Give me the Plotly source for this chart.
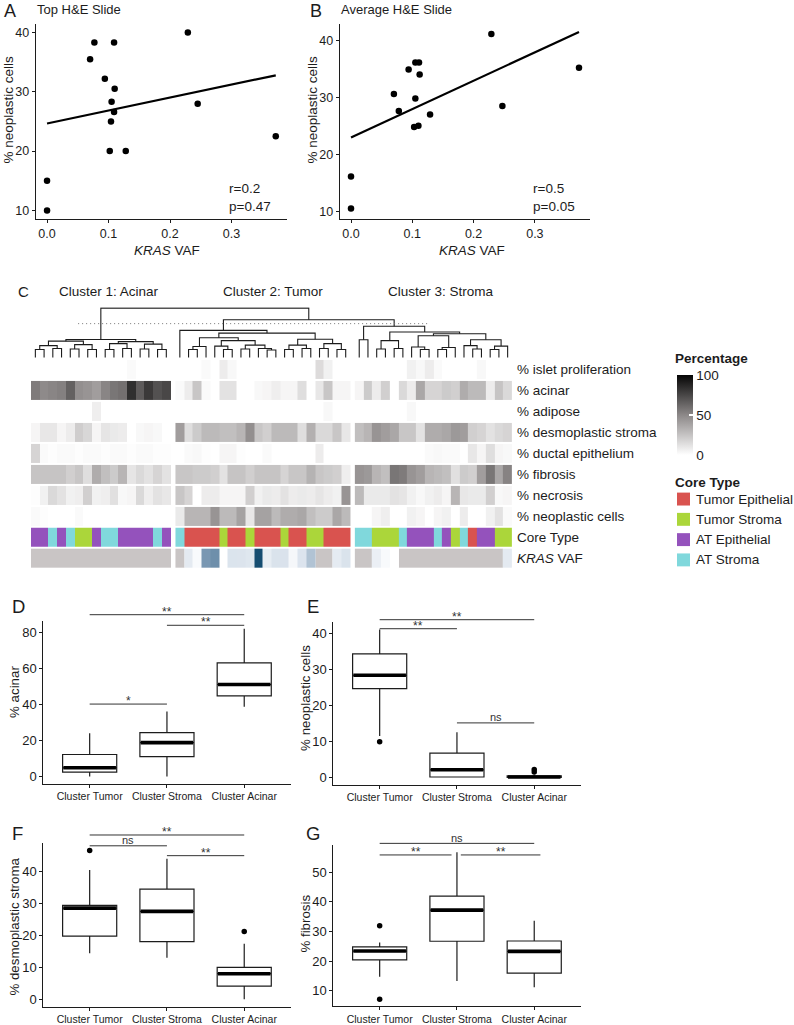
import numpy as np
import plotly.graph_objects as go

W, H = 794, 1025
FONT = "Liberation Sans, Arial, Helvetica, sans-serif"
INK = "#1c1c1c"

# ---------------- A / B : KRAS VAF vs % neoplastic cells ----------------
vaf_top = [0.229, 0.077, 0.109, 0.070, 0.094, 0.110, 0.105, 0.109, 0.104, 0.245, 0.102, 0.128, 0.0, 0.0, 0.372]
neo_top = [40.0, 38.3, 38.3, 35.5, 32.2, 30.5, 28.3, 26.6, 25.0, 28.0, 20.0, 20.0, 15.0, 10.0, 22.5]
vaf_avg = [0.229, 0.094, 0.105, 0.111, 0.112, 0.070, 0.105, 0.078, 0.129, 0.103, 0.110, 0.247, 0.0, 0.0, 0.372]
neo_avg = [41.1, 34.9, 36.1, 36.1, 34.0, 30.6, 29.8, 27.6, 27.0, 24.8, 25.0, 28.5, 16.1, 10.5, 35.2]
stats_top = ["r=0.2", "p=0.47"]
stats_avg = ["r=0.5", "p=0.05"]
titles_ab = ["Top H&E Slide", "Average H&E Slide"]
vaf_ticks = [0.0, 0.1, 0.2, 0.3]
neo_ticks = [10, 20, 30, 40]

# ---------------- C : clustered heatmap ----------------
cluster_names = ["Cluster 1: Acinar", "Cluster 2: Tumor", "Cluster 3: Stroma"]
cluster_sizes = [16, 20, 18]
row_labels = ["% islet proliferation", "% acinar", "% adipose", "% desmoplastic stroma",
              "% ductal epithelium", "% fibrosis", "% necrosis", "% neoplastic cells",
              "Core Type", "<i>KRAS</i> VAF"]
islet = ([0, 0, 0, 0, 0, 0, 0, 0, 0, 0, 0, 2, 0, 0, 0, 0] +
         [0, 0, 0, 2, 0, 8, 3, 0, 0, 0, 0, 0, 0, 0, 0, 0, 15, 6, 0, 0] +
         [0, 0, 0, 0, 0, 0, 6, 3, 8, 2, 0, 0, 0, 0, 3, 0, 0, 0])
acinar = ([55, 49, 51, 53, 65, 47, 45, 41, 51, 57, 59, 84, 67, 80, 71, 75] +
          [2, 8, 24, 2, 0, 12, 12, 0, 0, 3, 4, 7, 4, 4, 14, 0, 10, 24, 4, 4] +
          [4, 22, 8, 20, 0, 16, 8, 37, 18, 18, 22, 20, 35, 29, 29, 8, 25, 16])
adipose = ([0, 0, 0, 0, 0, 0, 0, 7, 0, 0, 0, 0, 0, 0, 0, 0] +
           [0, 0, 0, 0, 0, 0, 0, 0, 0, 0, 0, 0, 0, 0, 0, 0, 0, 3, 0, 0] +
           [0, 0, 0, 0, 0, 0, 3, 0, 0, 0, 0, 0, 0, 0, 0, 0, 0, 0])
desmoplastic = ([4, 10, 10, 4, 8, 21, 17, 4, 11, 9, 8, 0, 3, 4, 3, 0] +
                [41, 14, 22, 29, 29, 27, 27, 31, 47, 24, 20, 29, 29, 29, 14, 33, 16, 16, 24, 10] +
                [27, 31, 45, 41, 37, 24, 24, 12, 35, 35, 37, 43, 41, 20, 18, 12, 16, 18])
ductal = ([18, 2, 1, 2, 2, 1, 2, 2, 1, 2, 2, 1, 2, 2, 1, 1] +
          [0, 2, 3, 1, 0, 4, 4, 1, 0, 0, 2, 0, 0, 0, 0, 0, 8, 0, 0, 0] +
          [0, 0, 0, 0, 0, 0, 0, 0, 2, 3, 2, 2, 0, 10, 4, 14, 4, 3])
fibrosis = ([25, 25, 25, 25, 20, 24, 14, 35, 27, 22, 31, 11, 16, 12, 18, 12] +
            [24, 24, 22, 22, 20, 12, 25, 25, 20, 25, 25, 25, 18, 24, 24, 32, 24, 22, 20, 7] +
            [45, 43, 31, 27, 57, 55, 45, 41, 31, 29, 27, 13, 22, 20, 41, 57, 37, 52])
necrosis = ([1, 6, 16, 12, 6, 7, 20, 6, 7, 13, 3, 4, 16, 7, 12, 10] +
            [24, 18, 0, 8, 8, 4, 4, 4, 20, 6, 9, 8, 12, 8, 9, 8, 11, 8, 6, 45] +
            [29, 9, 9, 9, 12, 11, 6, 3, 6, 8, 4, 31, 10, 9, 9, 20, 3, 4])
neoplastic = ([2, 1, 0, 0, 0, 2, 0, 0, 0, 0, 0, 0, 0, 0, 0, 0] +
              [9, 31, 31, 31, 45, 29, 29, 39, 10, 39, 39, 29, 35, 35, 37, 27, 22, 22, 37, 29] +
              [0, 0, 4, 7, 0, 0, 6, 4, 0, 4, 6, 0, 8, 0, 0, 6, 12, 2])
core_type = (["ATE", "ATE", "ATS", "ATE", "ATS", "TS", "TS", "ATE", "ATS", "ATS", "ATE", "ATE", "ATE", "ATE", "ATS", "ATE"] +
             ["ATS", "TE", "TE", "TE", "TE", "TS", "TE", "TE", "TS", "TE", "TE", "TE", "TS", "TE", "TE", "TS", "TS", "TE", "TE", "TE"] +
             ["ATS", "ATS", "TS", "TS", "TS", "ATS", "ATE", "ATE", "ATE", "ATS", "ATE", "TS", "ATS", "TE", "ATE", "ATE", "TS", "TS"])
kras_vaf = ([None] * 16 +
            [None, 0.08, 0.02, 0.229, 0.245, 0.0, 0.105, 0.104, 0.094, 0.372, 0.07, 0.109, 0.11, 0.03, 0.102, 0.16, None, None, 0.077, 0.109] +
            [None, None, 0.06, 0.02, 0.0] + [None] * 12 + [0.08])
core_codes = ["TE", "TS", "ATE", "ATS"]
core_names = ["Tumor Epithelial", "Tumor Stroma", "AT Epithelial", "AT Stroma"]
core_colors = ["#D9534F", "#ABD63A", "#9452BC", "#80D8DC"]
pct_ticks = [0, 50, 100]
# dendrogram: [left, right, merge height]; leaves are column indices
dendro_c1 = [[[[0, 1, 8], [2, 3, 9], 12], [[4, 5, 8.5], [6, 7, 8], 13], 16.5],
             [[[8, 9, 8], [10, 11, 9], 14], [[12, 13, 8.5], [14, 15, 8], 13.5], 16], 18.2]
dendro_c2 = [16, [[[[17, 18, 8], 19, 11], [[20, [21, 22, 8], 11.5], [[23, 24, 8.5], [25, [26, 27, 7.5], 9], 12.5], 17], 20],
                  [[[28, 29, 8], [30, 31, 9], 12.5], [[32, 33, 9], [34, 35, 8], 14], 18.5], 24.7], 27.5]
dendro_c3 = [[36, 37, 18], [[[38, 39, 8.5], [40, 41, 9], 17],
                            [[[42, [43, 44, 8], 10.5], [[45, 46, 8], 47, 10], 22],
                             [[48, [49, 50, 8.5], 12], [[51, 52, 8], 53, 11.5], 18], 24], 25.8], 31.6]
dendro_tree = [dendro_c1, [dendro_c2, dendro_c3, 38.2], 50]
cut_height = 34.3
cut_span = [4.9, 45.1]

# ---------------- D-G : boxplots ----------------
box_categories = ["Cluster Tumor", "Cluster Stroma", "Cluster Acinar"]
acinar_box = dict(lower=[0, 0, 38.8], q1=[2.4, 11.0, 44.9], med=[4.8, 18.8, 51.2], q3=[12.2, 24.4, 63.3], upper=[24.0, 36.2, 82.3])
acinar_out = dict(x=[], y=[])
acinar_sig = [(1, 2, 40.3, "*"), (1, 3, 90.1, "**"), (2, 3, 84.2, "**")]
neo_box = dict(lower=[11.5, 0, 0], q1=[24.6, 0.1, 0], med=[28.3, 2.1, 0.1], q3=[34.2, 6.7, 0.4], upper=[41.0, 12.5, 0.7])
neo_out = dict(x=[1, 3, 3], y=[9.9, 1.5, 2.2])
neo_sig = [(1, 3, 43.7, "**"), (1, 2, 41.2, "**"), (2, 3, 15.1, "ns")]
desmo_box = dict(lower=[14.4, 13.0, 0], q1=[19.8, 18.1, 4.1], med=[28.6, 27.6, 8.0], q3=[29.5, 34.6, 10.0], upper=[40.6, 44.1, 17.4])
desmo_out = dict(x=[1, 3], y=[46.7, 21.3])
desmo_sig = [(1, 3, 51.6, "**"), (1, 2, 48.2, "ns"), (2, 3, 45.1, "**")]
fib_box = dict(lower=[14.7, 13.3, 11.2], q1=[20.4, 26.7, 16.0], med=[23.4, 37.2, 23.3], q3=[24.8, 41.9, 26.8], upper=[26.3, 56.7, 33.6])
fib_out = dict(x=[1, 1], y=[31.9, 7.2])
fib_sig = [(1, 3, 59.7, "ns"), (1, 1.93, 55.8, "**"), (2.05, 3.08, 55.8, "**")]

# ======================= layout helpers =======================
def xdom(a, b):
    return [a / W, b / W]

def ydom(top, bottom):
    return [1 - bottom / H, 1 - top / H]

def PX(p):
    return p / W

def PY(p):
    return 1 - p / H

gap = 0.55
heat_xr = (-0.5, sum(cluster_sizes) - 0.5 + 2 * gap)
P = {
    "A": dict(x=(35.6, 287.2), xr=(-0.0186, 0.3906), y=(23.7, 220.6), yr=(8.5, 41.5), n=""),
    "B": dict(x=(339.6, 590.4), xr=(-0.0186, 0.3906), y=(24.0, 220.0), yr=(8.7, 42.9), n="2"),
    "D": dict(x=(43.3, 290.6), xr=(0.4, 3.6), y=(625.0, 788.4), yr=(-4.115, 86.4), n="3"),
    "E": dict(x=(333.3, 580.6), xr=(0.4, 3.6), y=(625.7, 789.4), yr=(-2.05, 43.05), n="4"),
    "F": dict(x=(43.3, 290.6), xr=(0.4, 3.6), y=(848.1, 1012.5), yr=(-2.335, 49.04), n="5"),
    "G": dict(x=(333.3, 580.6), xr=(0.4, 3.6), y=(849.9, 1012.4), yr=(4.725, 59.175), n="6"),
    "HM": dict(x=(31.0, 512.0), xr=heat_xr, y=(361.0, 572.0), yr=(9.5, -0.5), n="7"),
    "DG": dict(x=(31.0, 512.0), xr=heat_xr, y=(309.0, 360.0), yr=(-0.5, 51.0), n="8"),
}

def to_px(pn, xv, yv):
    p = P[pn]
    x0, x1 = p["x"]; r0, r1 = p["xr"]
    t, b = p["y"]; s0, s1 = p["yr"]
    return (x0 + (xv - r0) / (r1 - r0) * (x1 - x0),
            b - (yv - s0) / (s1 - s0) * (b - t))

def axref(pn):
    n = P[pn]["n"]
    return "x" + n, "y" + n

fig = go.Figure()
shapes, annots = [], []

def text(x, y, s, size=13.5, xanchor="center", yanchor="middle", angle=0, bold=False, color=INK):
    annots.append(dict(x=PX(x), y=PY(y), xref="paper", yref="paper", text=("<b>%s</b>" % s if bold else s),
                       showarrow=False, xanchor=xanchor, yanchor=yanchor, textangle=angle, borderpad=0,
                       font=dict(family=FONT, size=size, color=color)))

def axis_style(pn, which, **kw):
    p = P[pn]
    d = dict(showline=True, linecolor=INK, linewidth=1, ticks="outside", ticklen=3, tickwidth=1,
             tickcolor=INK, showgrid=False, zeroline=False,
             tickfont=dict(family=FONT, size=12.5, color=INK))
    if which == "x":
        d.update(domain=xdom(*p["x"]), range=list(p["xr"]), anchor=axref(pn)[1])
    else:
        d.update(domain=ydom(*p["y"]), range=list(p["yr"]), anchor=axref(pn)[0])
    d.update(kw)
    return d

layout = {}

# ======================= A & B =======================
for pn, xs, ys, st, ttl in [("A", vaf_top, neo_top, stats_top, titles_ab[0]),
                            ("B", vaf_avg, neo_avg, stats_avg, titles_ab[1])]:
    xa, ya = axref(pn)
    fig.add_trace(go.Scatter(x=xs, y=ys, mode="markers", xaxis=xa, yaxis=ya,
                             marker=dict(color="black", size=6.5), hoverinfo="skip"))
    slope, icpt = np.polyfit(np.array(xs), np.array(ys), 1)
    lx = np.array([min(xs), max(xs)])
    fig.add_trace(go.Scatter(x=lx, y=icpt + slope * lx, mode="lines", xaxis=xa, yaxis=ya,
                             line=dict(color="black", width=2.2), hoverinfo="skip"))
    n = P[pn]["n"]
    layout["xaxis" + n] = axis_style(pn, "x", tickvals=vaf_ticks, ticktext=["%.1f" % v for v in vaf_ticks])
    layout["yaxis" + n] = axis_style(pn, "y", tickvals=neo_ticks)
    x0, x1 = P[pn]["x"]
    text(x0, 10, ttl, size=13, xanchor="left")
    text(x0 + 192, 190, st[0], xanchor="left")
    text(x0 + 192, 208, st[1], xanchor="left")
    text(x0 + 131 if pn == "A" else x0 + 132, 252, "<i>KRAS</i> VAF", size=13.5)
    text(x0 - 27.5, 110, "% neoplastic cells", size=13.5, angle=-90)

text(3, 11, "A", size=18, xanchor="left")
text(309, 11, "B", size=18, xanchor="left")

# ======================= C : heatmap =======================
bounds = []
s = 0
for n_ in cluster_sizes:
    bounds.append((s, s + n_))
    s += n_

def colpos(i):
    k = 0
    for kk, (a, b) in enumerate(bounds):
        if a <= i < b:
            k = kk
    return i + k * gap

gray_rows = [islet, acinar, adipose, desmoplastic, ductal, fibrosis, necrosis, neoplastic]
gray_scale = [[0, "#ffffff"], [0.5, "#8c8888"], [1, "#050505"]]
kras_scale = [[0, "#ffffff"], [0.3, "#d9e2ec"], [0.6, "#7d9ab5"], [1, "#154d71"]]
na_color = "#c9c5c5"
core_scale = []
for j, c in enumerate(core_colors):
    core_scale += [[j / 4, c], [(j + 1) / 4, c]]
xa7, ya7 = axref("HM")
for k, (a, b) in enumerate(bounds):
    xs = [colpos(i) for i in range(a, b)]
    fig.add_trace(go.Heatmap(
        x=xs, y=list(range(8)), z=[row[a:b] for row in gray_rows], colorscale=gray_scale,
        zmin=0, zmax=100, ygap=2, xaxis=xa7, yaxis=ya7, hoverinfo="skip", showscale=(k == 0),
        colorbar=dict(x=677 / W, xanchor="left", y=PY(377), yanchor="top", lenmode="pixels", len=80,
                      thicknessmode="pixels", thickness=16, xpad=0, ypad=0, outlinewidth=0,
                      tickvals=pct_ticks, ticks="inside", ticklen=4, tickcolor="white", tickwidth=1.5,
                      tickfont=dict(family=FONT, size=13.5, color=INK))))
    fig.add_trace(go.Heatmap(
        x=xs, y=[8], z=[[core_codes.index(c) for c in core_type[a:b]]], colorscale=core_scale,
        zmin=0, zmax=3, ygap=2, xaxis=xa7, yaxis=ya7, hoverinfo="skip", showscale=False))
    fig.add_trace(go.Heatmap(
        x=xs, y=[9], z=[[1 if v is None else None for v in kras_vaf[a:b]]],
        colorscale=[[0, na_color], [1, na_color]], ygap=2, xaxis=xa7, yaxis=ya7,
        hoverinfo="skip", showscale=False))
    fig.add_trace(go.Heatmap(
        x=xs, y=[9], z=[kras_vaf[a:b]], colorscale=kras_scale, zmin=0, zmax=max(v for v in kras_vaf if v is not None),
        ygap=2, xaxis=xa7, yaxis=ya7, hoverinfo="skip", showscale=False))

hidden = dict(showline=False, ticks="", showticklabels=False, showgrid=False, zeroline=False)
layout["xaxis7"] = dict(domain=xdom(*P["HM"]["x"]), range=list(heat_xr), anchor="y7", **hidden)
layout["yaxis7"] = dict(domain=ydom(*P["HM"]["y"]), range=list(P["HM"]["yr"]), anchor="x7", **hidden)
layout["xaxis8"] = dict(domain=xdom(*P["DG"]["x"]), range=list(heat_xr), anchor="y8", **hidden)
layout["yaxis8"] = dict(domain=ydom(*P["DG"]["y"]), range=list(P["DG"]["yr"]), anchor="x8", **hidden)

# dendrogram segments
seg_x, seg_y = [], []

def walk(node):
    if isinstance(node, int):
        return colpos(node), 0.0
    l, r, h = node
    xl, hl = walk(l)
    xr, hr = walk(r)
    seg_x.extend([xl, xl, xr, xr, None])
    seg_y.extend([hl, h, h, hr, None])
    return (xl + xr) / 2, h

rx, rh = walk(dendro_tree)
fig.add_trace(go.Scatter(x=seg_x, y=seg_y, mode="lines", xaxis="x8", yaxis="y8",
                         line=dict(color=INK, width=1.1), hoverinfo="skip"))
fig.add_trace(go.Scatter(x=cut_span, y=[cut_height, cut_height], mode="lines", xaxis="x8", yaxis="y8",
                         line=dict(color="#777777", width=1, dash="1px,3px"), hoverinfo="skip"))

for r, lab in enumerate(row_labels):
    text(516, 361 + (r + 0.5) * 21.1, lab, size=13.5, xanchor="left")
for k, name in enumerate(cluster_names):
    a, b = bounds[k]
    cx = to_px("HM", (colpos(a) + colpos(b - 1)) / 2, 0)[0]
    text(cx + [8, 10, 8][k], 293, name, size=13.5)
text(17, 293, "C", size=15, xanchor="left")

# legends
text(674, 361, "Percentage", size=13.5, xanchor="left", bold=True)
text(674, 485, "Core Type", size=13.5, xanchor="left", bold=True)
for j, (nm, col) in enumerate(zip(core_names, core_colors)):
    yc = 502 + j * 20.4
    shapes.append(dict(type="rect", xref="paper", yref="paper", x0=PX(677), x1=PX(690),
                       y0=PY(yc + 6.5), y1=PY(yc - 6.5), fillcolor=col, line=dict(width=0)))
    text(695, yc, nm, size=13.5, xanchor="left")

# ======================= D-G boxplots =======================
panels_box = [("D", acinar_box, acinar_out, acinar_sig, "% acinar", [0, 20, 40, 60, 80], (15, 696), (11, 610)),
              ("E", neo_box, neo_out, neo_sig, "% neoplastic cells", [0, 10, 20, 30, 40], (306, 702), (306, 610)),
              ("F", desmo_box, desmo_out, desmo_sig, "% desmoplastic stroma", [0, 10, 20, 30, 40], (15, 932), (11, 838)),
              ("G", fib_box, fib_out, fib_sig, "% fibrosis", [10, 20, 30, 40, 50], (306, 929), (305, 838))]
cats = [1, 2, 3]
bw = 0.7
for pn, bx, outl, sig, ytitle, yt, tpos, lpos in panels_box:
    xa, ya = axref(pn)
    fig.add_trace(go.Box(x=cats, q1=bx["q1"], median=bx["med"], q3=bx["q3"], lowerfence=bx["lower"],
                         upperfence=bx["upper"], xaxis=xa, yaxis=ya, width=bw, whiskerwidth=0,
                         fillcolor="white", line=dict(color=INK, width=1.2), boxpoints=False,
                         hoverinfo="skip"))
    mx, my = [], []
    for c, m in zip(cats, bx["med"]):
        mx += [c - bw / 2 + 0.01, c + bw / 2 - 0.01, None]
        my += [m, m, None]
    fig.add_trace(go.Scatter(x=mx, y=my, mode="lines", xaxis=xa, yaxis=ya,
                             line=dict(color="black", width=3.6), hoverinfo="skip"))
    if outl["x"]:
        fig.add_trace(go.Scatter(x=outl["x"], y=outl["y"], mode="markers", xaxis=xa, yaxis=ya,
                                 marker=dict(color="black", size=5.5), hoverinfo="skip", cliponaxis=False))
    n = P[pn]["n"]
    layout["xaxis" + n] = axis_style(pn, "x", tickvals=cats, ticktext=box_categories,
                                     tickfont=dict(family=FONT, size=10.5, color=INK))
    layout["yaxis" + n] = axis_style(pn, "y", tickvals=yt, tickfont=dict(family=FONT, size=13, color=INK))
    for (x0, x1, yv, lab) in sig:
        p0 = to_px(pn, x0, yv)
        p1 = to_px(pn, x1, yv)
        shapes.append(dict(type="line", xref="paper", yref="paper", x0=PX(p0[0]), x1=PX(p1[0]),
                           y0=PY(p0[1]), y1=PY(p0[1]), line=dict(color="#333333", width=1)))
        off = 3.0 if "*" in lab else 5.8
        text((p0[0] + p1[0]) / 2, p0[1] - off, lab, size=12 if "*" in lab else 11, color="#333333")
    text(tpos[0], tpos[1], ytitle, size=13.3, angle=-90)
    text(lpos[0], lpos[1], pn, size=18.5, xanchor="left")

layout.update(dict(width=W, height=H, margin=dict(l=0, r=0, t=0, b=0), paper_bgcolor="white",
                   plot_bgcolor="white", showlegend=False, shapes=shapes, annotations=annots,
                   font=dict(family=FONT, color=INK)))
fig.update_layout(**layout)
fig.write_html("out.html", config={"displayModeBar": False},
               post_script="document.body.style.margin='0';document.body.style.padding='0';")
